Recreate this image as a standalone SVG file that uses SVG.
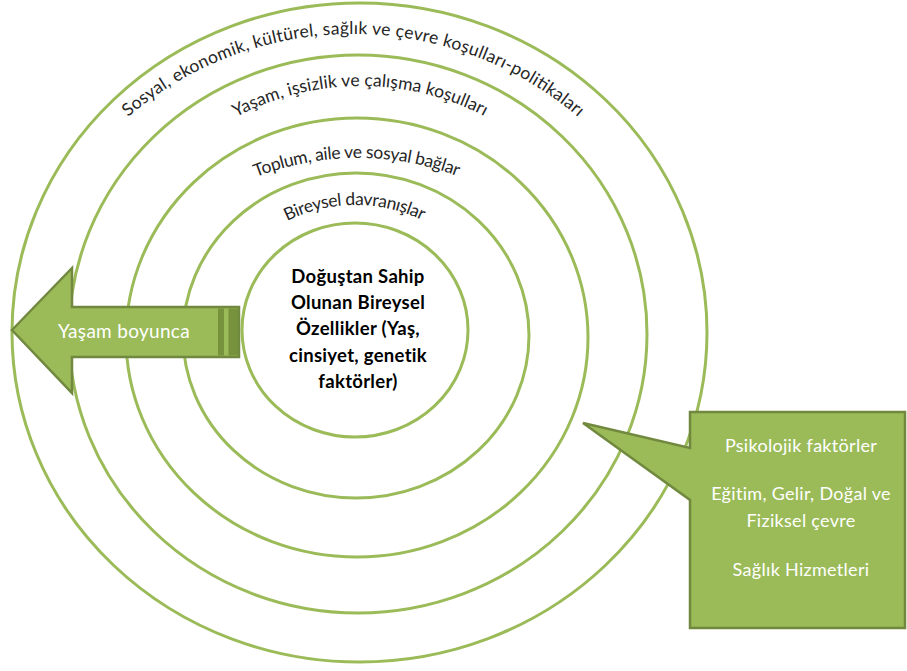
<svg xmlns="http://www.w3.org/2000/svg" width="907" height="671" viewBox="0 0 907 671">
<style>
.ring{fill:none;stroke:#9BBB59;stroke-width:3}
.lbl{font-family:Lato,"Open Sans","Liberation Sans",sans-serif;font-size:17.5px;fill:#262626}
.core{font-family:Lato,"Open Sans","Liberation Sans",sans-serif;font-size:18.5px;font-weight:bold;fill:#000;text-anchor:middle;letter-spacing:0.3px}
.wt{font-family:Lato,"Open Sans","Liberation Sans",sans-serif;fill:#fff;text-anchor:middle;letter-spacing:0.3px}
.shape{fill:#9BBB59;stroke:#71893F;stroke-width:2.5;stroke-linejoin:miter}
</style>
<defs>
<path id="p1" d="M128,117 A346.5,346.5 0 0 1 578,117"/>
<path id="p2" d="M236,117 A267.5,267.5 0 0 1 486,117"/>
<path id="p3" d="M256,177 A283.3,283.3 0 0 1 460,177"/>
<path id="p4" d="M287,221 A154.6,154.6 0 0 1 424,221"/>
</defs>
<rect width="907" height="671" fill="#fff"/>
<g id="ring-outer">
<ellipse class="ring" cx="359.5" cy="332.5" rx="347.5" ry="329.5"/>
<text class="lbl"><textPath href="#p1" textLength="490" lengthAdjust="spacing">Sosyal, ekonomik, kültürel, sağlık ve çevre koşulları-politikaları</textPath></text>
</g>
<g id="ring-4">
<ellipse class="ring" cx="358" cy="334" rx="289" ry="279"/>
<text class="lbl"><textPath href="#p2" textLength="258" lengthAdjust="spacing">Yaşam, işsizlik ve çalışma koşulları</textPath></text>
</g>
<g id="ring-3">
<ellipse class="ring" cx="357" cy="337.5" rx="231" ry="219.5"/>
<text class="lbl"><textPath href="#p3" textLength="206" lengthAdjust="spacing">Toplum, aile ve sosyal bağlar</textPath></text>
</g>
<g id="ring-2">
<ellipse class="ring" cx="356" cy="335.5" rx="173" ry="162.5"/>
<text class="lbl"><textPath href="#p4" textLength="140" lengthAdjust="spacing">Bireysel davranışlar</textPath></text>
</g>
<g id="core">
<ellipse class="ring" cx="355" cy="330" rx="113" ry="107"/>
<text class="core" x="358" y="283">Doğuştan Sahip</text>
<text class="core" x="358" y="309">Olunan Bireysel</text>
<text class="core" x="358" y="335">Özellikler (Yaş,</text>
<text class="core" x="358" y="362">cinsiyet, genetik</text>
<text class="core" x="358" y="388">faktörler)</text>
</g>
<g id="lifelong-arrow">
<path class="shape" d="M12,330 L72,268 L72,307 L239,307 L239,357 L72,357 L72,393 Z"/>
<rect x="218" y="308.5" width="20" height="47" fill="#76923C"/>
<rect x="224" y="308.5" width="4.5" height="47" fill="#9BBB59"/>
<text class="wt" x="124" y="338" font-size="19">Yaşam boyunca</text>
</g>
<g id="factors-callout">
<path class="shape" d="M583,423 L690,448 L690,412 L905,412 L905,628 L690,628 L690,500 Z"/>
<text class="wt" x="801" y="452" font-size="18">Psikolojik faktörler</text>
<text class="wt" x="801" y="500" font-size="18">Eğitim, Gelir, Doğal ve</text>
<text class="wt" x="801" y="527" font-size="18">Fiziksel çevre</text>
<text class="wt" x="801" y="576" font-size="18">Sağlık Hizmetleri</text>
</g>
<g id="connectors"></g>
</svg>
